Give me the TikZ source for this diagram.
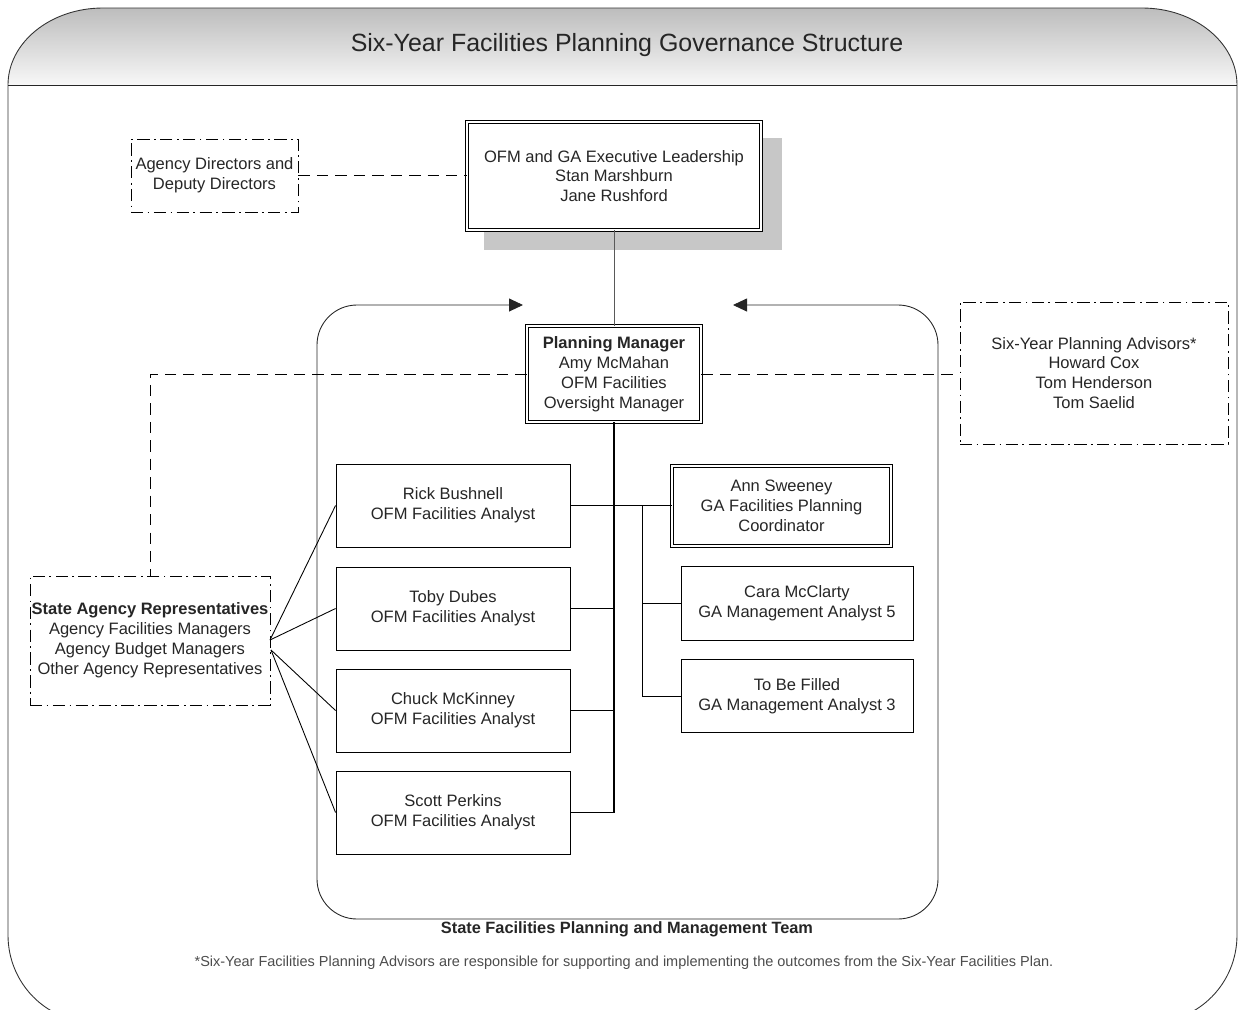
\documentclass[tikz,border=0pt]{standalone}
\usepackage{fontspec}
\setmainfont{Liberation Sans}
\usetikzlibrary{arrows.meta}
\tikzset{
  >={Triangle[length=2.8mm,width=2.6mm]},
  bx/.style={draw,rectangle,align=center,inner sep=0pt,fill=white,font=\fontsize{9.4}{11.3}\selectfont,text=black!85},
  dbx/.style={bx,double,double distance=1.3pt,line width=0.45pt},
  ddbx/.style={bx,line width=0.45pt,dash pattern=on 7pt off 2.5pt on 1pt off 2.5pt},
  an/.style={bx,minimum width=4.68cm,minimum height=1.66cm},
  ga/.style={bx,minimum width=4.64cm,minimum height=1.47cm},
  dl/.style={line width=0.45pt,dash pattern=on 6.5pt off 4pt},
  every picture/.style={line width=0.5pt},
}
\begin{document}
\begin{tikzpicture}
\useasboundingbox (0,0) rectangle (24.9,-20.2);
\clip (0,0) rectangle (24.9,-20.2);
\shade[top color=black!26,bottom color=black!3] (0.16,-1.7) arc[start angle=180,end angle=90,x radius=1.9cm,y radius=1.54cm]
  -- (22.84,-0.16) arc[start angle=90,end angle=0,x radius=1.9cm,y radius=1.54cm] -- cycle;
\draw[black!80] (0.16,-1.7) arc[start angle=180,end angle=90,x radius=1.9cm,y radius=1.54cm]
  -- (22.84,-0.16) arc[start angle=90,end angle=0,x radius=1.9cm,y radius=1.54cm]
  -- (24.74,-18.7) arc[start angle=0,end angle=-90,x radius=1.7cm,y radius=1.74cm]
  -- (1.86,-20.44) arc[start angle=270,end angle=180,x radius=1.7cm,y radius=1.74cm] -- cycle;
\draw[black!85] (0.16,-1.7) -- (24.74,-1.7);
\node[font=\fontsize{14.2}{16}\selectfont,text=black!85] (ttl) at (12.54,-0.9) {Six-Year Facilities Planning Governance Structure};

\coordinate (tl) at (10.46,-6.1); \coordinate (tr) at (14.66,-6.1);
\draw[<->,black!85,rounded corners=0.8cm] (tl) -| (6.34,-18.38) -| (18.76,-6.1) -- (tr);
\node[font=\bfseries\fontsize{9.3}{11}\selectfont,text=black!85] (tm) at (12.54,-18.58) {State Facilities Planning and Management Team};
\node[font=\fontsize{8.25}{10}\selectfont,text=black!70] (fn) at (12.48,-19.26) {*Six-Year Facilities Planning Advisors are responsible for supporting and implementing the outcomes from the Six-Year Facilities Plan.};

\node[fill=black!22,minimum width=5.96cm,minimum height=2.24cm] (exs) at (12.66,-3.88) {};
\node[dbx,minimum width=5.88cm,minimum height=2.16cm] (ex) at (12.28,-3.52) {OFM and GA Executive Leadership\\Stan Marshburn\\Jane Rushford};
\node[ddbx,minimum width=3.34cm,minimum height=1.46cm] (ad) at (4.29,-3.51) {Agency Directors and\\Deputy Directors};
\node[dbx,minimum width=3.48cm,minimum height=1.92cm] (pm) at (12.28,-7.48) {\textbf{Planning Manager}\\Amy McMahan\\OFM Facilities\\Oversight Manager};
\node[ddbx,minimum width=5.36cm,minimum height=2.84cm] (adv) at (21.88,-7.46) {Six-Year Planning Advisors*\\Howard Cox\\Tom Henderson\\Tom Saelid};
\node[ddbx,minimum width=4.8cm,minimum height=2.58cm] (sar) at (3.0,-12.81) {\textbf{State Agency Representatives}\\Agency Facilities Managers\\Agency Budget Managers\\Other Agency Representatives};
\node[an] (rb) at (9.06,-10.11) {Rick Bushnell\\OFM Facilities Analyst};
\node[an] (td) at (9.06,-12.17) {Toby Dubes\\OFM Facilities Analyst};
\node[an] (ck) at (9.06,-14.21) {Chuck McKinney\\OFM Facilities Analyst};
\node[an] (sp) at (9.06,-16.25) {Scott Perkins\\OFM Facilities Analyst};
\node[dbx,minimum width=4.38cm,minimum height=1.6cm] (as) at (15.63,-10.12) {Ann Sweeney\\GA Facilities Planning\\Coordinator};
\node[ga] (cmc) at (15.94,-12.07) {Cara McClarty\\GA Management Analyst 5};
\node[ga] (tbf) at (15.94,-13.92) {To Be Filled\\GA Management Analyst 3};

\draw[dl] (ad.east) -- (ad.east -| ex.west);
\draw[black!65] (ex.south) -- (pm.north);
\draw[dl] (pm.west) -| (sar.north);
\draw[dl] (pm.east) -- (pm.east -| adv.west);
\draw[line width=0.9pt] (pm.south) -- (pm.south |- sp.east);
\draw (rb.east) -- (rb.east -| as.west);
\draw (td.east) -- (td.east -| pm.south); \draw (ck.east) -- (ck.east -| pm.south); \draw (sp.east) -- (sp.east -| pm.south);
\coordinate (br) at (12.84,-10.11);
\draw (br) |- (cmc.west); \draw (br) |- (tbf.west);
\coordinate (sa1) at (5.4,-12.8); \coordinate (sa2) at (5.42,-13.0);
\draw (sa1) -- (rb.west); \draw (sa1) -- (td.west); \draw (sa2) -- (ck.west); \draw (sa2) -- (sp.west);
\end{tikzpicture}
\end{document}
